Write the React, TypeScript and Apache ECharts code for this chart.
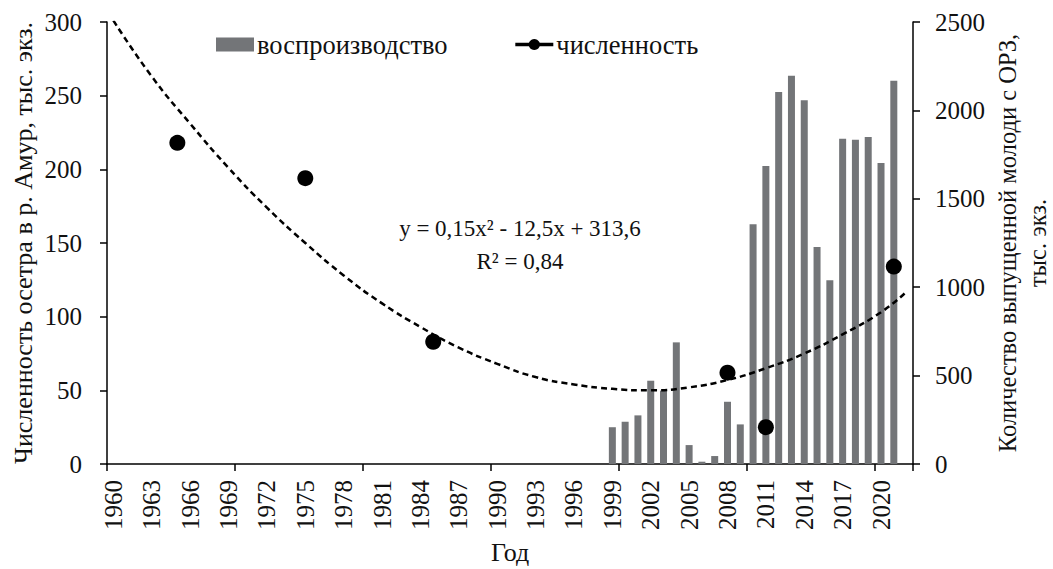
import React, { useEffect, useRef } from "react";
import * as echarts from "echarts";

const years: string[] = [
  "1960","1961","1962","1963","1964","1965","1966","1967","1968","1969",
  "1970","1971","1972","1973","1974","1975","1976","1977","1978","1979",
  "1980","1981","1982","1983","1984","1985","1986","1987","1988","1989",
  "1990","1991","1992","1993","1994","1995","1996","1997","1998","1999",
  "2000","2001","2002","2003","2004","2005","2006","2007","2008","2009",
  "2010","2011","2012","2013","2014","2015","2016","2017","2018","2019",
  "2020","2021","2022",
];

// воспроизводство (right axis, тыс. экз.)
const releaseYears: string[] = [
  "1999","2000","2001","2002","2003","2004","2005","2006","2007","2008","2009",
  "2010","2011","2012","2013","2014","2015","2016","2017","2018","2019","2020","2021",
];
const releaseValues: number[] = [
  208, 239, 275, 471, 415, 688, 107, 13, 45, 352, 224,
  1356, 1685, 2104, 2196, 2057, 1227, 1039, 1840, 1834, 1850, 1703, 2168,
];

// численность (left axis, тыс. экз.)
const countYears: string[] = ["1965", "1975", "1985", "2008", "2011", "2021"];
const countValues: number[] = [218, 194, 83, 62, 25, 134];

// polynomial trend line
const trendYears: string[] = [
  "1960","1963","1966","1969","1972","1975","1978","1981","1984","1987","1990",
  "1993","1996","1999","2002","2005","2008","2011","2014","2017","2020","2022",
];
const trendValues: number[] = [
  301, 263, 231, 201, 174, 150, 128, 109, 93, 79, 68,
  59, 54, 51, 50, 52, 57, 65, 75, 88, 103, 117,
];

const leftTitle = "Численность осетра в р. Амур, тыс. экз.";
const rightTitle = "Количество выпущенной молоди с ОРЗ,\nтыс. экз.";
const xTitle = "Год";
const eqLine1 = "y = 0,15x² - 12,5x + 313,6";
const eqLine2 = "R² = 0,84";

const FONT = "Liberation Serif";
const TEXT = "#111";

export default function App() {
  const ref = useRef<HTMLDivElement>(null);
  useEffect(() => {
    if (!ref.current) return;
    const chart = echarts.init(ref.current, undefined, { renderer: "svg" });
    const axisLine = { show: true, lineStyle: { color: "#000", width: 1.5 } };
    const axisTick = { show: true, length: 7, lineStyle: { color: "#000", width: 1.5 } };
    const labelStyle = { color: TEXT, fontFamily: FONT, fontSize: 25 };
    chart.setOption({
      animation: false,
      backgroundColor: "#fff",
      grid: {
        left: 107,
        right: 140,
        top: 22,
        bottom: 105,
        containLabel: false,
        outerBoundsMode: "none",
      },
      legend: {
        left: 216,
        top: 31,
        padding: 0,
        itemWidth: 38,
        itemHeight: 14,
        itemGap: 66,
        textStyle: { color: TEXT, fontFamily: FONT, fontSize: 26.5, padding: [0, 0, 0, -2] },
        data: [
          { name: "воспроизводство", icon: "rect", itemStyle: { color: "#737578" } },
          {
            name: "численность",
            lineStyle: { color: "#000", width: 3.5, opacity: 1, type: "solid" },
            itemStyle: { color: "#000" },
          },
        ],
      },
      xAxis: {
        type: "category",
        data: years,
        boundaryGap: true,
        axisLine,
        axisTick: { ...axisTick, interval: 9, alignWithLabel: false },
        axisLabel: { ...labelStyle, interval: 2, rotate: 90, margin: 16 },
        splitLine: { show: false },
        name: xTitle,
        nameLocation: "middle",
        nameGap: 75,
        nameTextStyle: { color: TEXT, fontFamily: FONT, fontSize: 26 },
      },
      yAxis: [
        {
          type: "value",
          min: 0,
          max: 300,
          interval: 50,
          axisLine,
          axisTick,
          axisLabel: { ...labelStyle, margin: 25 },
          splitLine: { show: false },
        },
        {
          type: "value",
          min: 0,
          max: 2500,
          interval: 500,
          position: "right",
          axisLine,
          axisTick,
          axisLabel: { ...labelStyle, margin: 22, formatter: (v: number) => String(v) },
          splitLine: { show: false },
        },
      ],
      graphic: [
        {
          type: "text",
          x: 23,
          y: 243,
          rotation: Math.PI / 2,
          style: {
            text: leftTitle,
            fontFamily: FONT,
            fontSize: 26,
            fill: TEXT,
            align: "center",
            verticalAlign: "middle",
          },
        },
        {
          type: "text",
          x: 1022,
          y: 243,
          rotation: Math.PI / 2,
          style: {
            text: rightTitle,
            fontFamily: FONT,
            fontSize: 24.5,
            lineHeight: 30,
            fill: TEXT,
            align: "center",
            verticalAlign: "middle",
          },
        },
        {
          type: "text",
          x: 520,
          y: 228,
          style: {
            text: eqLine1,
            fontFamily: FONT,
            fontSize: 23,
            fill: TEXT,
            align: "center",
            verticalAlign: "middle",
          },
        },
        {
          type: "text",
          x: 520,
          y: 261,
          style: {
            text: eqLine2,
            fontFamily: FONT,
            fontSize: 23,
            fill: TEXT,
            align: "center",
            verticalAlign: "middle",
          },
        },
      ],
      series: [
        {
          name: "воспроизводство",
          type: "bar",
          yAxisIndex: 1,
          barWidth: 7,
          itemStyle: { color: "#737578" },
          data: releaseYears.map((y, i) => [y, releaseValues[i]]),
        },
        {
          name: "trend",
          type: "line",
          yAxisIndex: 0,
          smooth: true,
          showSymbol: false,
          symbol: "none",
          clip: true,
          lineStyle: { color: "#000", width: 2.5, type: [6, 4] },
          data: trendYears.map((y, i) => [y, trendValues[i]]),
          z: 3,
        },
        {
          name: "численность",
          type: "line",
          yAxisIndex: 0,
          symbol: "circle",
          symbolSize: 16,
          showSymbol: true,
          showAllSymbol: true,
          itemStyle: { color: "#000" },
          lineStyle: { width: 0, opacity: 0 },
          data: countYears.map((y, i) => [y, countValues[i]]),
          z: 4,
        },
      ],
    });
    return () => chart.dispose();
  }, []);
  return (
    <div
      ref={ref}
      style={{ position: "absolute", left: 0, top: 0, width: 1053, height: 569, background: "#fff" }}
    />
  );
}
